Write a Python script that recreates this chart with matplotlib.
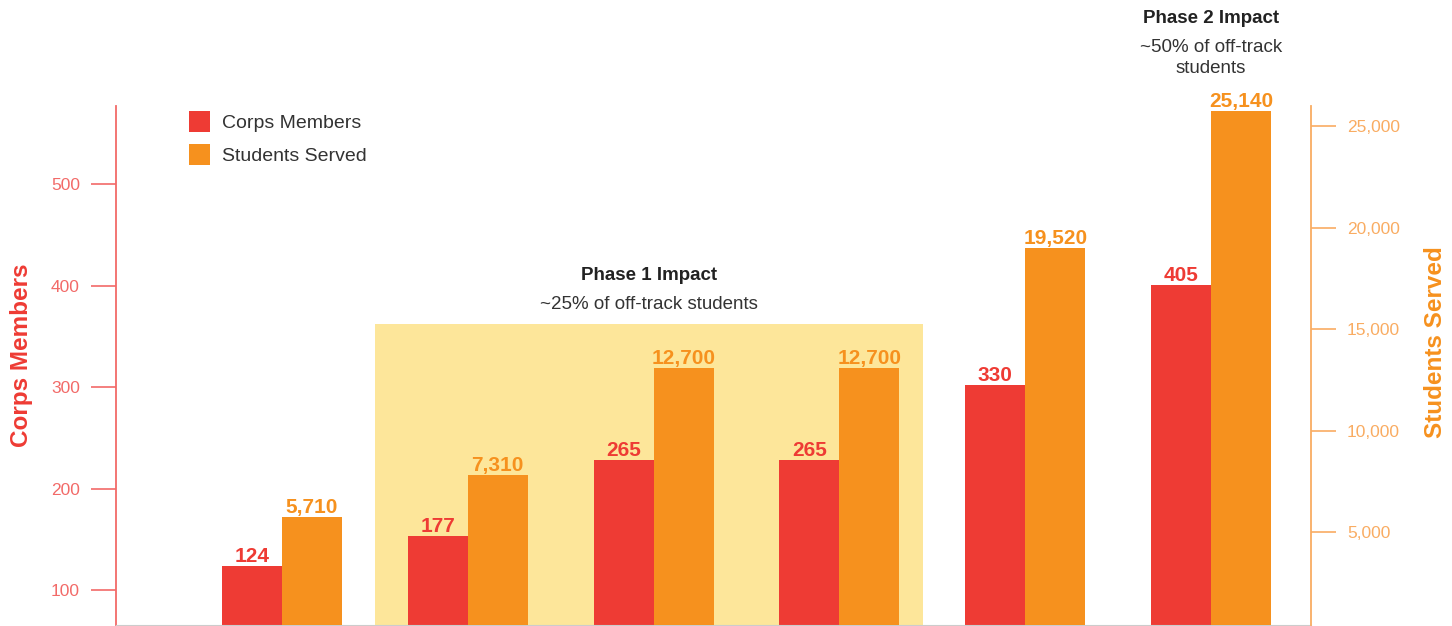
import numpy as np
import matplotlib
matplotlib.use("Agg")
import matplotlib.pyplot as plt
from matplotlib.patches import Patch, Rectangle

plt.rcParams['font.family'] = ['Liberation Sans', 'DejaVu Sans']

# data: labels as printed, heights as drawn against the axes
# (the source bars are not drawn exactly to the scale of their labels)
corps_labels = [124, 177, 265, 265, 330, 405]
students_labels = [5710, 7310, 12700, 12700, 19520, 25140]
corps_heights = [124, 153, 228, 228, 302, 401]
students_heights = [5720, 7830, 13080, 13080, 18980, 25770]
left_ticks = [100, 200, 300, 400, 500]
right_ticks = [5000, 10000, 15000, 20000, 25000]

red = '#ee3b34'
orange = '#f6911e'
red_light = '#f26a68'
orange_light = '#f9ac62'
highlight = '#fde69a'

fig = plt.figure(figsize=(14.52, 6.26), dpi=100)
ax = fig.add_axes([116 / 1452, 1 / 626, 1195 / 1452, 519 / 626])
ax2 = ax.twinx()

x = np.arange(len(corps_labels))
w = 0.323

# phase 1 shaded block
ax.add_patch(Rectangle((0.5, 0), 2.95, 362, facecolor=highlight,
                       edgecolor='none', zorder=0))

ax.bar(x - w / 2, corps_heights, width=w, color=red, zorder=2)
ax2.bar(x + w / 2, students_heights, width=w, color=orange, zorder=2)

for xi, h, lab in zip(x, corps_heights, corps_labels):
    ax.annotate(f"{lab:,}", (xi - w / 2, h), xytext=(0, 4), textcoords='offset pixels',
                ha='center', va='baseline', color=red, fontsize=15, fontweight='bold')
for xi, h, lab in zip(x, students_heights, students_labels):
    ax2.annotate(f"{lab:,}", (xi + w / 2, h), xytext=(0, 4), textcoords='offset pixels',
                 ha='center', va='baseline', color=orange, fontsize=15, fontweight='bold')

ax.set_xlim(-0.893, 5.538)
ax.set_ylim(65.5, 577)
ax2.set_ylim(420, 26000)
ax.set_xticks([])

ax.set_yticks(left_ticks)
ax.set_yticklabels([str(t) for t in left_ticks])
ax2.set_yticks(right_ticks)
ax2.set_yticklabels([f"{t:,}" for t in right_ticks])

ax.tick_params(axis='y', length=18, width=1.2, pad=8, color=red_light,
               labelcolor=red_light, labelsize=12.5)
ax2.tick_params(axis='y', length=18, width=1.2, pad=8, color=orange_light,
                labelcolor=orange_light, labelsize=12.5)

for a in (ax, ax2):
    a.spines['top'].set_visible(False)
ax.spines['right'].set_visible(False)
ax.spines['left'].set_color(red_light)
ax.spines['left'].set_linewidth(1.3)
ax.spines['bottom'].set_color('#cccccc')
ax2.spines['left'].set_visible(False)
ax2.spines['bottom'].set_visible(False)
ax2.spines['right'].set_color(orange_light)
ax2.spines['right'].set_linewidth(1.3)

ax.set_ylabel("Corps Members", color=red, fontsize=17.5, fontweight='bold')
ax.yaxis.set_label_coords(-0.0695, 0.519)
ax2.set_ylabel("Students Served", color=orange, fontsize=17.5, fontweight='bold')
ax2.yaxis.set_label_coords(1.0946, 0.546)

# phase annotations
def note(xd, ypix, s, bold=False):
    ax.annotate(s, (xd, 1 - ypix / 626), xycoords=('data', 'figure fraction'),
                ha='center', va='baseline', fontsize=13.5,
                fontweight='bold' if bold else 'normal',
                color='#222222' if bold else '#333333', annotation_clip=False)

note(1.975, 280, "Phase 1 Impact", bold=True)
note(1.975, 309, "~25% of off-track students")
note(5.0, 23, "Phase 2 Impact", bold=True)
note(5.0, 52, "~50% of off-track")
note(5.0, 73, "students")

handles = [Patch(facecolor=red, label='Corps Members'),
           Patch(facecolor=orange, label='Students Served')]
fig.legend(handles=handles, loc='upper left', bbox_to_anchor=(189 / 1452, 1 - 111 / 626),
           frameon=False, fontsize=14, handlelength=1.08, handleheight=1.25,
           handletextpad=0.6, labelspacing=0.65, borderpad=0, borderaxespad=0,
           labelcolor='#333333')

fig.savefig("out.png", dpi=100)
